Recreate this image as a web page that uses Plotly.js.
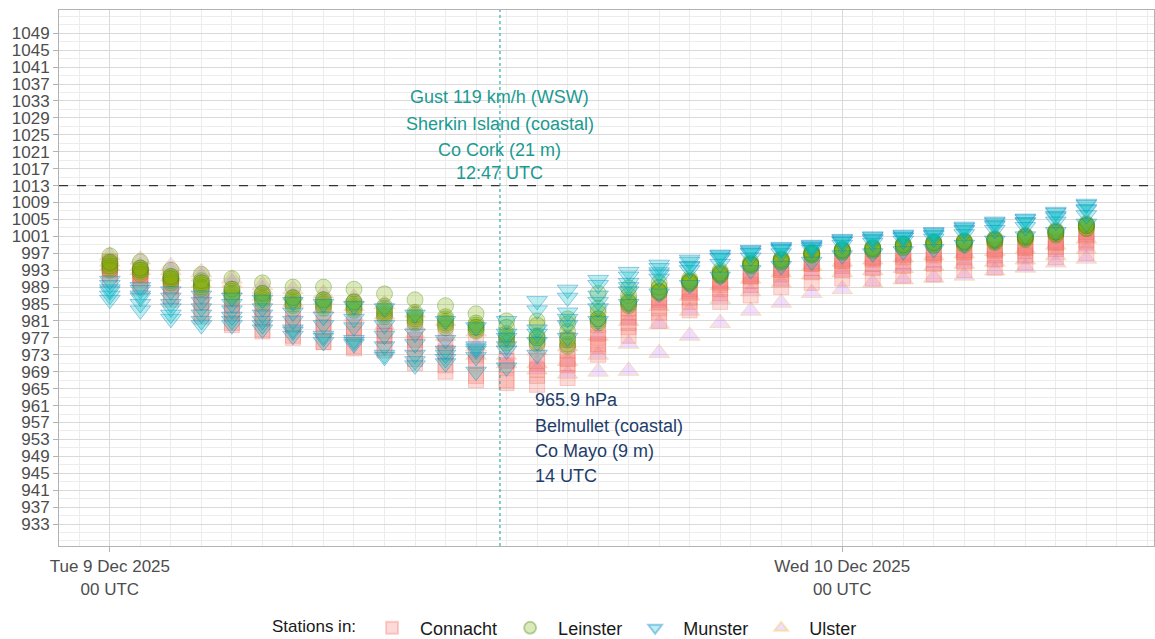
<!DOCTYPE html>
<html>
<head>
<meta charset="utf-8">
<script src="https://cdn.plot.ly/plotly-3.0.1.min.js"></script>
<style>html,body{margin:0;padding:0;background:#fff;}#chart{width:1155px;height:639px;}</style>
</head>
<body>
<div id="chart"></div>
<script>
// Hourly observation times (UTC)
const hours = [
  '2025-12-09 00:00','2025-12-09 01:00','2025-12-09 02:00','2025-12-09 03:00','2025-12-09 04:00',
  '2025-12-09 05:00','2025-12-09 06:00','2025-12-09 07:00','2025-12-09 08:00','2025-12-09 09:00',
  '2025-12-09 10:00','2025-12-09 11:00','2025-12-09 12:00','2025-12-09 13:00','2025-12-09 14:00',
  '2025-12-09 15:00','2025-12-09 16:00','2025-12-09 17:00','2025-12-09 18:00','2025-12-09 19:00',
  '2025-12-09 20:00','2025-12-09 21:00','2025-12-09 22:00','2025-12-09 23:00','2025-12-10 00:00',
  '2025-12-10 01:00','2025-12-10 02:00','2025-12-10 03:00','2025-12-10 04:00','2025-12-10 05:00',
  '2025-12-10 06:00','2025-12-10 07:00','2025-12-10 08:00'
];

// Mean sea level pressure (hPa) per station
// Connacht
const maceHead   = [991,989,986,982,980,978.5,977,976,975,974.5,972,970.5,968,967,968,971,975,979.5,983,985.5,987.5,989.5,991,992.5,993,993.5,994,994.5,995,995.5,996.5,998,999.5];
const belmullet  = [992,990,987,983,980.5,979,977.5,976,974.5,974,971,969,967,966.3,965.9,967.5,973,977.5,981,983.5,985.5,987,989,990,991,991,991.7,992,993,993.6,994.8,996,997];
const claremorris= [993,991,989,985.5,983,981.5,980,979,978,977.5,975.5,973.5,971.5,970,969.5,970.5,975.5,980.5,984,986.5,988.5,990.5,992,993.5,994,994.5,995,995.5,996,996.5,997.5,998.5,1000];
const knock      = [994,992,990,987,984.5,983,981.5,980.5,979.5,978.5,976.5,975,973,971.5,971,972,977,982,985.5,987.5,989.5,991.5,993,994.5,995,995.5,996,996.5,997,997.5,998.3,999.5,1001];
const athenry    = [993.5,991.5,989.5,986,983.5,982,980.5,979.5,978.5,977.5,975,973,971,970.5,971.5,974,978,983,986,988,990,991.5,993,994.5,995.2,995.8,996.5,997,997.3,997.8,998.5,999.7,1001.5];
const mtDillon   = [995,993,991,988,986,985,984,983,982,981,979,978,976,975,975,976.5,980,984,986.5,988.5,990.5,992,993.5,995,995.5,996,997,997,997.6,998,998.8,1000,1002];
// Leinster
const dublinAirport = [996.4,995,993,992,991,990,989,989,988.5,987.4,986,984.6,982.7,981,980,980.3,983,986,988.8,990.5,992.5,994.5,995.5,997,997.8,998.3,999,999.5,999.8,1000.3,1001,1002.2,1003.8];
const johnstown  = [995,993.5,991.5,990,988.5,987.5,986.5,986,985.5,984.5,983,982,980.5,979.5,981,981.5,987.5,988.8,990,991,992.9,995,995.8,997.3,998,998.5,999.2,999.7,1000,1000.5,1001.2,1002.4,1004];
const casement   = [994.5,993,991,990,988,987,986,985.5,985,983.5,982,981,979.5,977.5,977,977,981.5,985.5,988,990.2,992,994.3,995.2,996.8,997.6,998,998.8,999.3,999.5,1000,1000.7,1001.9,1003.5];
const mullingar  = [993.5,992.5,990.5,989,987,986,985,984.5,984,982.5,981,980,979,976.5,976,975.5,980.5,984.6,987.6,989.8,991.7,994,994.8,996.5,997.2,997.5,998.3,998.8,999,999.5,1000.2,1001.3,1002.8];
const gurteen    = [993,992,990,988.6,986.5,985.5,984.6,984,983.5,982,980.5,979.4,978.6,975.8,975.5,975,981,985,987.8,990,991.8,994.2,995,996.6,997.4,997.8,998.5,999,999.3,999.8,1000.5,1001.6,1003];
const oakPark    = [994,993,991,989.5,987.5,986.5,985.5,985,984.5,983,981.5,980.5,979.5,977,977.5,978.5,984,987,989,990.5,992.3,994.6,995.5,997,997.8,998.2,999,999.5,999.8,1000.2,1001,1002,1003.6];
const dunsany    = [994.8,993.5,991.5,990.5,988.5,987.5,986.5,986,985.5,984,982.5,981.5,980,978,977,976.5,981.5,985.3,988,990.2,992.2,994.4,995.3,996.9,997.7,998.1,998.9,999.4,999.7,1000.1,1000.8,1002,1003.5];
// Munster
const valentia   = [986,983.5,981.5,980,980,979,977.5,976,975.5,973,971.5,972,975,981,985.7,988.4,990.7,992.6,994.3,995.5,996.7,997.8,998.5,999,1000.4,1001,1001.4,1002,1003.3,1004.5,1005.2,1006.8,1008.7];
const sherkin    = [987,985,982.5,981,981,980,978.5,977,976.5,975,973,973,974,978,983.5,986.5,989.5,991.5,993.5,995,996.5,997.6,998.3,998.8,1000.2,1000.8,1001.2,1001.8,1003,1004.2,1005,1006.5,1008.4];
const corkAirport= [988.5,987,985,984,983.5,982.5,981,980,979.5,977.5,975.5,974,972.5,974,979,983,987,990,992.5,994,996,997.2,998,998.5,999.8,1000.4,1000.8,1001.4,1002.6,1003.7,1004.4,1005.8,1007.5];
const rochesPoint= [989.5,988.3,986.5,985.5,985,984,983,982,981.5,980,978,976.5,974.5,975,978,981.5,985.5,989,992,993.8,995.8,997,997.8,998.3,999.7,1000.2,1000.7,1001.2,1002.4,1003.4,1004.2,1005.5,1007.2];
const shannon    = [988,986.5,984,982.5,982,981,979,977.5,976,972.5,970.5,971,969,970,973,977,981,985,987.5,989.5,991.5,993,994,995,996.5,997,997.5,998,999,1000,1001,1002,1004];
const moorePark  = [990.5,989,988,987,986.5,986,985.5,985,984.5,984,982.5,981,979.5,977,976,980,984,988,991,993,994.5,996,997,997.8,999,999.5,1000,1000.5,1001.5,1002.5,1003.2,1004.5,1006];
// Ulster
const malinHead  = [994,993,991.5,990,988.5,987,985.5,984,982,980,978,975.5,973,971,969.5,968.5,969,969.2,973.4,977.5,980.5,983.4,985.3,987.6,988.5,990,990.8,991.2,991.7,992.9,993.6,994.8,995.7];
const finner     = [995,994,993,991.5,990,988.5,987,986,984.5,982.5,980,977.5,975,973,971,971.5,973,975.6,980.3,983.4,986.2,988,990,992,992.5,993,993.5,994,994.5,995,995.5,996.5,998];
const ballyhaise = [996.5,995.5,994,992.5,991,989.5,988.5,987.5,986.5,985,983,981,978.5,976,974,975,977.5,981,984.5,987,989.5,991,992.5,994,995,995.5,996,996.5,997,997.5,998,999,1000.5];

const provinces = ['Connacht','Leinster','Munster','Ulster'];
const stationsByProvince = {
  Connacht: [maceHead, belmullet, claremorris, knock, athenry, mtDillon],
  Leinster: [dublinAirport, johnstown, casement, mullingar, gurteen, oakPark, dunsany],
  Munster:  [valentia, sherkin, corkAirport, rochesPoint, shannon, moorePark],
  Ulster:   [malinHead, finner, ballyhaise]
};

// Tick labels
const yTicks = [933,937,941,945,949,953,957,961,965,969,973,977,981,985,989,993,997,1001,1005,1009,1013,1017,1021,1025,1029,1033,1037,1041,1045,1049];
const xTickVals = ['2025-12-09 00:00','2025-12-10 00:00'];
const xTickText = ['Tue 9 Dec 2025<br>00 UTC','Wed 10 Dec 2025<br>00 UTC'];

// Annotations
const gustTime = '2025-12-09 12:47';
const gustLines = ['Gust 119 km/h (WSW)','Sherkin Island (coastal)','Co Cork (21 m)','12:47 UTC'];
const minTime = '2025-12-09 14:00';
const minLines = ['965.9 hPa','Belmullet (coastal)','Co Mayo (9 m)','14 UTC'];
const referencePressure = 1013;

const styles = {
  Connacht: {symbol:'square', size:15, color:'rgba(248,118,109,0.27)', line:'rgba(240,110,100,0.30)'},
  Leinster: {symbol:'circle', size:16, color:'rgba(124,174,0,0.27)', line:'rgba(70,135,20,0.35)'},
  Munster:  {symbol:'triangle-down', size:18, color:'rgba(0,191,196,0.27)', line:'rgba(0,125,200,0.38)'},
  Ulster:   {symbol:'triangle-up', size:18, color:'rgba(199,124,255,0.25)', line:'rgba(245,205,100,0.45)'}
};
const drawOrder = ['Ulster','Connacht','Leinster','Munster'];

const traces = drawOrder.map(p => {
  const xs = [], ys = [];
  stationsByProvince[p].forEach(st => { st.forEach((v,i) => { xs.push(hours[i]); ys.push(v); }); });
  const s = styles[p];
  return {
    type:'scatter', mode:'markers', name:p, x:xs, y:ys,
    legendrank: provinces.indexOf(p)+1,
    marker:{symbol:s.symbol, size:s.size, color:s.color, line:{color:s.line, width:1}},
    hoverinfo:'x+y+name'
  };
});

const lineYs1 = [1033.9,1027.6,1021.4,1016.0];
const lineYs2 = [962.3,956.2,950.2,944.3];
const annotations = [];
gustLines.forEach((t,i) => annotations.push({x:gustTime, y:lineYs1[i], xref:'x', yref:'y', text:t, showarrow:false, xanchor:'center', yanchor:'middle', font:{size:18, color:'#1a9a91'}}));
minLines.forEach((t,i) => annotations.push({x:minTime, y:lineYs2[i], xref:'x', yref:'y', text:t, showarrow:false, xanchor:'left', yanchor:'middle', xshift:-4, font:{size:18, color:'#1d3d6b'}}));

const layout = {
  width:1155, height:639,
  margin:{l:59, r:1, t:10, b:93, autoexpand:false},
  paper_bgcolor:'#ffffff', plot_bgcolor:'#ffffff',
  font:{family:'"Liberation Sans", Arial, sans-serif', size:16, color:'#4d4d4d'},
  xaxis:{
    type:'date', range:['2025-12-08 22:20','2025-12-10 10:13'],
    tickmode:'array', tickvals:xTickVals, ticktext:xTickText,
    ticks:'outside', ticklen:5, tickcolor:'#b3b3b3',
    showgrid:true, gridcolor:'#d9d9d9', gridwidth:1,
    minor:{tickmode:'linear', tick0:'2025-12-09 00:00', dtick:3600000, showgrid:true, gridcolor:'#ececec', gridwidth:1},
    showline:true, linecolor:'#b3b3b3', linewidth:1, mirror:true, zeroline:false,
    tickfont:{size:17, color:'#4d4d4d'}
  },
  yaxis:{
    range:[927.8,1054.5],
    tickmode:'array', tickvals:yTicks,
    ticks:'outside', ticklen:5, tickcolor:'#b3b3b3',
    showgrid:true, gridcolor:'#d9d9d9', gridwidth:1,
    minor:{tickmode:'linear', tick0:931, dtick:2, showgrid:true, gridcolor:'#ececec', gridwidth:1},
    showline:true, linecolor:'#b3b3b3', linewidth:1, mirror:true, zeroline:false,
    tickfont:{size:17, color:'#4d4d4d'}
  },
  shapes:[
    {type:'line', xref:'paper', x0:0, x1:1, yref:'y', y0:referencePressure, y1:referencePressure, line:{color:'#333333', width:1.2, dash:'dash'}},
    {type:'line', xref:'x', x0:gustTime, x1:gustTime, yref:'paper', y0:0, y1:1, line:{color:'#2bb0ad', width:1.2, dash:'dot'}}
  ],
  annotations:annotations,
  showlegend:true,
  legend:{
    orientation:'h', x:0.49, xanchor:'center', xref:'container', yref:'container', y:0.017, yanchor:'middle',
    title:{text:'Stations in:', side:'left', font:{size:17, color:'#1a1a1a'}},
    font:{size:18, color:'#1a1a1a'}, traceorder:'normal', itemsizing:'constant', itemwidth:46
  }
};

Plotly.newPlot('chart', traces, layout, {displayModeBar:false, staticPlot:true});
</script>
</body>
</html>
